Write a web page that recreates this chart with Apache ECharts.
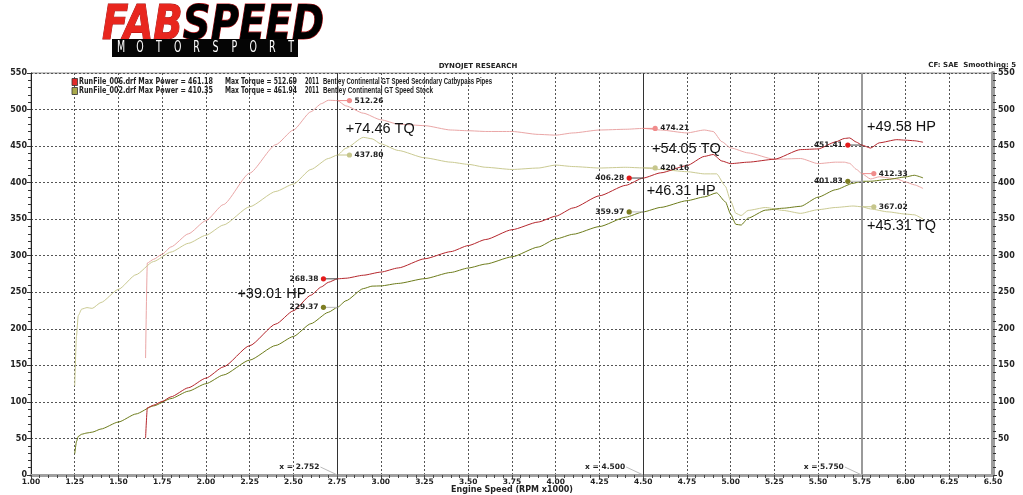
<!DOCTYPE html>
<html><head><meta charset="utf-8">
<script src="https://cdn.jsdelivr.net/npm/echarts@6/dist/echarts.min.js"></script>
<style>html,body{margin:0;padding:0;background:#fff}#c{width:1023px;height:495px}</style>
</head><body><div id="c"></div>
<script>
// ---------- data ----------
const rpm006 = [1.655,1.665,1.70,1.75,1.80,1.90,2.00,2.10,2.25,2.40,2.50,2.60,2.66,2.70,2.752,2.80,2.90,3.00,3.10,3.25,3.40,3.50,3.60,3.75,3.90,4.00,4.10,4.25,4.40,4.50,4.60,4.75,4.85,4.90,4.95,5.00,5.10,5.25,5.40,5.50,5.60,5.65,5.68,5.72,5.75,5.80,5.85,5.95,6.00,6.05,6.10];
const tq006  = [160,290,295,302,312,330,348,370,413,452,472,497,508,512.69,512.26,505,495,486,480,478,472,471,470,470,466,465,468,472,473,474.21,472,468,472,470,456,447.5,440.7,432,433,426,428,428,426.4,418,412.33,405,408,405,401,397,392];
const pwr006 = [50.4,91.9,95.5,100.6,106.9,119.4,132.5,147.9,176.9,206.6,224.7,246.0,257.3,263.6,268.38,269.2,273.3,277.6,283.3,295.8,305.6,313.9,322.2,335.6,346.1,354.1,365.4,382.0,396.3,406.28,413.4,423.3,435.9,438.5,429.6,426.0,428.0,432.0,445.2,446.1,455.7,460.4,461.15,455.3,451.41,447.3,454.5,458.8,458.1,457.3,455.3];

const rpm002 = [1.25,1.26,1.27,1.29,1.32,1.35,1.40,1.50,1.60,1.70,1.80,1.90,2.00,2.10,2.25,2.40,2.50,2.60,2.70,2.752,2.80,2.90,2.95,3.00,3.10,3.25,3.40,3.50,3.60,3.75,3.90,4.00,4.10,4.25,4.40,4.50,4.60,4.75,4.85,4.92,4.97,5.00,5.03,5.06,5.10,5.20,5.30,5.40,5.50,5.60,5.70,5.75,5.80,5.90,6.00,6.05,6.10];
const tq002  = [122,190,218,227,229,228,236,254,274,292,305,317,328,342,367,388,398,418,433,437.80,447,461.94,460,453,444,434,428,425,421,418,420,424,422,420,421,420.16,418,415,412,412,395,375,358,355,362,366,362,358,363,366,368,367.02,364,360,357,356,350];
const pwr002 = [29.0,45.6,52.7,55.8,57.5,58.6,62.9,72.5,83.5,94.5,104.5,114.7,124.9,136.8,157.2,177.3,189.5,207.0,222.6,229.37,238.3,255.0,258.4,258.7,262.1,268.6,277.1,283.2,288.6,298.5,311.9,322.9,329.4,339.9,352.7,359.97,366.1,375.3,380.5,386.0,373.8,357.0,342.9,342.0,351.5,362.4,365.0,367.6,380.1,390.3,399.1,401.83,401.9,404.4,407.8,410.1,406.5];

const cursors = [2.752, 4.500, 5.750];
const curPwr006 = [268.38, 406.28, 451.41];
const curPwr002 = [229.37, 359.97, 401.83];
const curTq006  = [512.26, 474.21, 412.33];
const curTq002  = [437.80, 420.16, 367.02];

const legendLines = [
  ['RunFile_006.drf Max Power = 461.18', 'Max Torque = 512.69', '2011', 'Bentley Continental GT Speed Secondary Catbypass Pipes'],
  ['RunFile_002.drf Max Power = 410.35', 'Max Torque = 461.94', '2011', 'Bentley Continental GT Speed Stock']
];
const gains = [
  {t:'+74.46 TQ', x:2.80, y:474},
  {t:'+54.05 TQ', x:4.55, y:446},
  {t:'+46.31 HP', x:4.52, y:389},
  {t:'+49.58 HP', x:5.78, y:476},
  {t:'+45.31 TQ', x:5.78, y:341},
  {t:'+39.01 HP', x:2.18, y:248}
];
const xTitle = 'Engine Speed (RPM x1000)';

// ---------- chart ----------
const FONT = '"DejaVu Sans", Verdana, sans-serif';
const C = {p6:'#b5262c', p2:'#6d7c1b', t6:'#eaa6a6', t2:'#caca92'};
const D = {p6:'#e31b1b', p2:'#7d7d22', t6:'#f08c8c', t2:'#c6c68c'};
const zip = (xs, ys) => xs.map((x,i)=>[x, ys[i]]);
const chart = echarts.init(document.getElementById('c'));
const lbl = {color:'#222', fontFamily:FONT, fontWeight:'bold', fontSize:7.5};

const yBase = (pos) => ({
  type:'value', min:0, max:550, interval:50, position:pos,
  axisLine:{show:true, lineStyle: pos==='left' ? {color:'#222',width:1} : {color:'#9c9c9c',width:4}},
  axisTick:{show:true, length:4, lineStyle:{color:'#333'}},
  minorTick:{show:true, splitNumber:5, length:3, lineStyle:{color:'#333'}},
  axisLabel:Object.assign({margin: pos==='left'?4:5}, lbl, {fontSize:8}),
  splitLine:{show: pos==='left', lineStyle:{color:'#555', type:[2,2], width:1}},
  name: pos==='left' ? 'Power (hp)' : 'Torque (ft-lbs)',
  nameLocation:'middle', nameGap: pos==='left'?21:21, nameRotate: pos==='left'?90:-90,
  nameTextStyle:Object.assign({}, lbl, {fontSize:8})
});

const option = {
  animation:false,
  backgroundColor:'#fff',
  grid:{left:31, right:30, top:73, bottom:20, show:true, borderColor:'#8a8a8a', borderWidth:1, containLabel:false, outerBoundsMode:'none'},
  xAxis:{
    type:'value', min:1, max:6.5, interval:0.25,
    axisLine:{show:true, onZero:false, lineStyle:{color:'#a0a0a0', width:3}},
    axisTick:{show:true, length:4, lineStyle:{color:'#444'}},
    minorTick:{show:true, splitNumber:5, length:3, lineStyle:{color:'#444'}},
    axisLabel:Object.assign({formatter:v=>v.toFixed(2), margin:3, lineHeight:8}, lbl),
    splitLine:{show:true, lineStyle:{color:'#555', type:[2,2], width:1}}
  },
  yAxis:[yBase('left'), yBase('right')],
  series:[
    {name:'tq006', type:'line', yAxisIndex:1, data:zip(rpm006,tq006), showSymbol:false, smooth:0.2, smoothMonotone:'x', lineStyle:{color:C.t6,width:1}, z:3},
    {name:'tq002', type:'line', yAxisIndex:1, data:zip(rpm002,tq002), showSymbol:false, smooth:0.2, smoothMonotone:'x', lineStyle:{color:C.t2,width:1}, z:3},
    {name:'pwr002', type:'line', yAxisIndex:0, data:zip(rpm002,pwr002), showSymbol:false, smooth:0.2, smoothMonotone:'x', lineStyle:{color:C.p2,width:1}, z:4},
    {name:'pwr006', type:'line', yAxisIndex:0, data:zip(rpm006,pwr006), showSymbol:false, smooth:0.2, smoothMonotone:'x', lineStyle:{color:C.p6,width:1}, z:5,
      markLine:{silent:true, symbol:'none', label:{show:false},
        lineStyle:{color:'#333', type:'solid', width:1},
        data:[{xAxis:cursors[0]},{xAxis:cursors[1]},{xAxis:cursors[2], lineStyle:{color:'#9a9a9a', width:2, type:'solid'}}]}}
  ]
};
chart.setOption(option);

// ---------- overlays positioned through the chart's scales ----------
const px = (x,y,axis) => chart.convertToPixel({xAxisIndex:0, yAxisIndex:axis||0}, [x,y]);
const g = [];
const vFont = 'bold 7.5px ' + FONT;
const mctx = document.createElement('canvas').getContext('2d');
const measure = (t,f) => { mctx.font = f; return mctx.measureText(t).width; };

// x-axis title, centred under the axis
const xl = px(1,0), xr = px(6.5,0);
g.push({type:'text', x:(xl[0]+xr[0])/2, y:xl[1]+15, style:{text:xTitle, font:'bold 8px '+FONT, fill:'#222', align:'center', verticalAlign:'middle'}});

// cursor labels and markers
cursors.forEach((cx,i)=>{
  const bottom = px(cx,0);
  g.push({type:'line', shape:{x1:bottom[0]-17, y1:bottom[1]-8, x2:bottom[0], y2:bottom[1]}, style:{stroke:'#bbb', lineWidth:1}, z:50});
  g.push({type:'text', x:bottom[0]-18, y:bottom[1]-8, style:{text:'x = '+cx.toFixed(3), font:vFont, fill:'#222', align:'right', verticalAlign:'middle'}, z:50});
  const items = [
    {v:curPwr006[i], a:0, side:-1, col:D.p6, lc:'#444'},
    {v:curPwr002[i], a:0, side:-1, col:D.p2, lc:'#bbb'},
    {v:curTq006[i],  a:1, side:1,  col:D.t6, lc:D.t6},
    {v:curTq002[i],  a:1, side:1,  col:D.t2, lc:D.t2}
  ];
  items.forEach(it=>{
    const p = px(cx, it.v, it.a);
    const dx = it.side<0 ? -14 : 12;
    g.push({type:'line', shape:{x1:p[0], y1:p[1], x2:p[0]+dx, y2:p[1]}, style:{stroke:it.lc, lineWidth:1}, z:51});
    g.push({type:'circle', shape:{cx:p[0]+dx, cy:p[1], r:2.6}, style:{fill:it.col}, z:52});
    g.push({type:'text', x:p[0]+dx+(it.side<0?-5:5), y:p[1], style:{text:it.v.toFixed(2), font:vFont, fill:'#222', align:it.side<0?'right':'left', verticalAlign:'middle'}, z:52});
  });
});

// gain annotations
gains.forEach(a=>{
  const p = px(a.x, a.y);
  g.push({type:'text', x:p[0], y:p[1], style:{text:a.t, font:'14.5px "Liberation Sans", Arial, sans-serif', fill:'#111', align:'left', verticalAlign:'middle'}, z:60});
});

// legend (each segment fitted to its width in the original)
const legCols = ['#e02a2a', '#a9a94a'];
const segX = [[79,213],[225,297],[305,319],[323,null]];
const narrowW = [[169],[110]];
legendLines.forEach((ln,i)=>{
  const y = 82 + i*9;
  g.push({type:'rect', shape:{x:72, y:y-3.5, width:5.5, height:7}, style:{fill:legCols[i], stroke:'#333', lineWidth:0.8}, z:40});
  ln.forEach((t,j)=>{
    const f = j<3 ? 'bold 8.5px '+FONT : 'bold 8.5px "Liberation Sans Narrow", "Liberation Sans", sans-serif';
    const target = j<3 ? segX[j][1]-segX[j][0] : narrowW[i][0];
    const w = measure(t,f);
    g.push({type:'text', x:segX[j][0], y:y, scaleX: Math.min(1.2, target/w), style:{text:t, font:f, fill:'#222', verticalAlign:'middle'}, z:40});
  });
});

// header texts
g.push({type:'text', x:478, y:66, style:{text:'DYNOJET RESEARCH', font:'bold 7px '+FONT, fill:'#222', align:'center', verticalAlign:'middle'}});
g.push({type:'text', x:1016, y:65, style:{text:'CF: SAE  Smoothing: 5', font:'bold 7px '+FONT, fill:'#222', align:'right', verticalAlign:'middle'}});

// logo
const logoFont = 'italic bold 48px "DejaVu Sans", sans-serif';
const fabW = measure('FAB', logoFont), speedW = measure('SPEED', logoFont);
const sx = 222 / (fabW + speedW);
g.push({type:'text', x:102, y:3, scaleX:sx, style:{text:'FAB', font:logoFont, fill:'#e8261e', stroke:'#a30f0f', lineWidth:1, verticalAlign:'top'}});
const stripe = [];
for (let k=0;k<=12;k++){ const t=k/12; stripe.push({offset:t, color: t<0.4 ? '#e8261e' : (k%2 ? '#2f6fd0' : '#a8c8f2')}); }
g.push({type:'text', x:102+fabW*sx, y:3, scaleX:sx, style:{text:'SPEED', font:logoFont, fill:new echarts.graphic.LinearGradient(0,0,0,1,stripe), stroke:'#c0161a', lineWidth:1.2, verticalAlign:'top'}});
g.push({type:'rect', shape:{x:112, y:39, width:186, height:18}, style:{fill:'#050505'}});
'MOTORSPORT'.split('').forEach((ch,i)=>{
  g.push({type:'text', x:121 + i*18.9, y:48, scaleX:0.7, style:{text:ch, font:'15px "DejaVu Sans Condensed", sans-serif', fill:'#fff', align:'center', verticalAlign:'middle'}});
});

chart.setOption({graphic:g});
</script>
</body></html>
